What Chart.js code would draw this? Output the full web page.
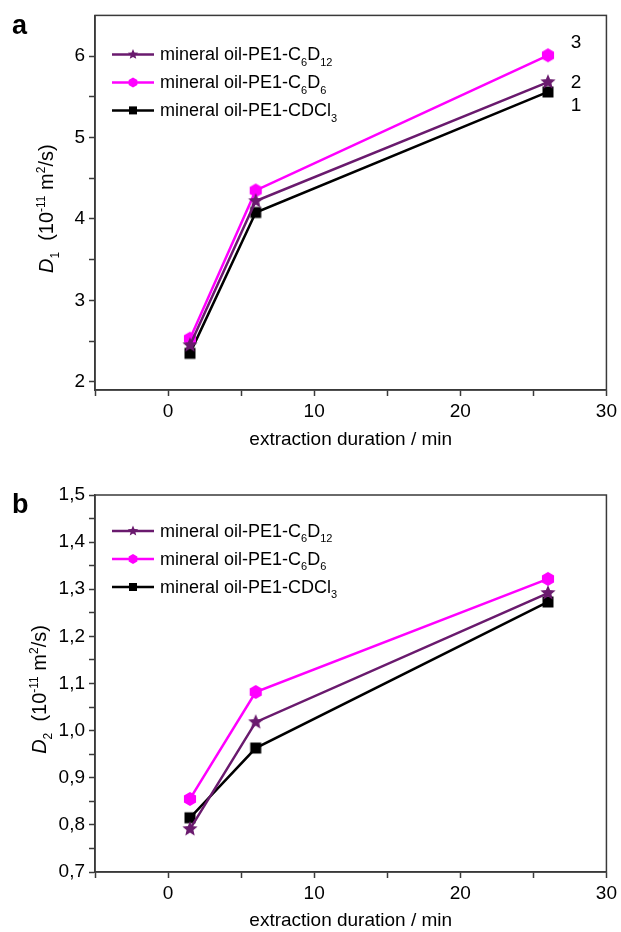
<!DOCTYPE html>
<html>
<head>
<meta charset="utf-8">
<script src="https://cdn.jsdelivr.net/npm/chart.js@4.4.0/dist/chart.umd.min.js"></script>
<style>
  html, body { margin: 0; padding: 0; background: #fff; }
  #boxA { position: relative; width: 621px; height: 465px; }
  #boxB { position: relative; width: 621px; height: 467px; }
</style>
</head>
<body>
<div id="boxA"><canvas id="chartA"></canvas></div>
<div id="boxB"><canvas id="chartB"></canvas></div>
<script>
// extraction duration (min)
var durations = [1.5, 6, 26];

// panel a : D1
var d1_C6D12 = [2.45, 4.22, 5.68];
var d1_C6D6  = [2.53, 4.35, 6.01];
var d1_CDCl3 = [2.35, 4.08, 5.56];

// panel b : D2
var d2_C6D12 = [0.791, 1.018, 1.292];
var d2_C6D6  = [0.855, 1.082, 1.322];
var d2_CDCl3 = [0.815, 0.963, 1.273];

// legend texts (_n = subscript)
var seriesLabels = ['mineral oil-PE1-C_6D_12', 'mineral oil-PE1-C_6D_6', 'mineral oil-PE1-CDCl_3'];
var curveNumbers = ['2', '3', '1'];

// ticks
var xTicks = [-5, 0, 5, 10, 15, 20, 25, 30];
var xTickLabels = ['', '0', '', '10', '', '20', '', '30'];
var d1Ticks = [2, 2.5, 3, 3.5, 4, 4.5, 5, 5.5, 6];
var d1TickLabels = ['2', '', '3', '', '4', '', '5', '', '6'];
var d2Ticks = [0.7, 0.75, 0.8, 0.85, 0.9, 0.95, 1.0, 1.05, 1.1, 1.15, 1.2, 1.25, 1.3, 1.35, 1.4, 1.45, 1.5];
var d2TickLabels = ['0,7', '', '0,8', '', '0,9', '', '1,0', '', '1,1', '', '1,2', '', '1,3', '', '1,4', '', '1,5'];

var colStar = '#6a1a6e';
var colHex = '#ff00ff';
var colSq = '#000000';
var FONT = "'Liberation Sans', Arial, sans-serif";
var axisCol = '#3a3a3a';

// marker shapes
function starPath(ctx, cx, cy, r) {
  ctx.beginPath();
  for (var i = 0; i < 10; i++) {
    var rr = i % 2 === 0 ? r : r * 0.45;
    var a = -Math.PI / 2 + i * Math.PI / 5;
    var px = cx + rr * Math.cos(a), py = cy + rr * Math.sin(a);
    if (i === 0) ctx.moveTo(px, py); else ctx.lineTo(px, py);
  }
  ctx.closePath();
}
function hexPath(ctx, cx, cy, r) {
  ctx.beginPath();
  for (var i = 0; i < 6; i++) {
    var a = -Math.PI / 2 + i * Math.PI / 3;
    var px = cx + r * Math.cos(a), py = cy + r * Math.sin(a);
    if (i === 0) ctx.moveTo(px, py); else ctx.lineTo(px, py);
  }
  ctx.closePath();
}
function sqPath(ctx, cx, cy, r) {
  ctx.beginPath();
  ctx.rect(cx - r, cy - r, 2 * r, 2 * r);
}
function makeMarker(pathFn, r, color) {
  var c = document.createElement('canvas');
  c.width = 20; c.height = 20;
  var g = c.getContext('2d');
  g.fillStyle = color;
  pathFn(g, 10, 10, r);
  g.fill();
  return c;
}
var mkStar = makeMarker(starPath, 8, colStar);
var mkHex = makeMarker(hexPath, 7, colHex);
var mkSq = makeMarker(sqPath, 5.5, colSq);

function parseRich(str) {
  var parts = [], re = /_(\d+)|\^(-?\d+)|([^_^]+)/g, m;
  while ((m = re.exec(str))) {
    if (m[1]) parts.push({ t: m[1], k: 'sub' });
    else if (m[2]) parts.push({ t: m[2], k: 'sup' });
    else parts.push({ t: m[3], k: 'n' });
  }
  return parts;
}
function partFont(p, fs) {
  var small = p.k === 'sub' || p.k === 'sup';
  return (p.k === 'it' ? 'italic ' : '') + (small ? Math.round(fs * 0.62) : fs) + 'px ' + FONT;
}
function richWidth(ctx, parts, fs) {
  var w = 0;
  parts.forEach(function (p) { ctx.font = partFont(p, fs); w += ctx.measureText(p.t).width; });
  return w;
}
function drawRich(ctx, parts, x, y, fs, color) {
  ctx.save();
  ctx.fillStyle = color;
  ctx.textBaseline = 'alphabetic';
  ctx.textAlign = 'left';
  parts.forEach(function (p) {
    ctx.font = partFont(p, fs);
    var dy = p.k === 'sub' ? fs * 0.3 : (p.k === 'sup' ? -fs * 0.42 : 0);
    ctx.fillText(p.t, x, y + dy);
    x += ctx.measureText(p.t).width;
  });
  ctx.restore();
}

var legendOrder = [
  { path: starPath, r: 5.5, color: colStar },
  { path: hexPath, r: 5, color: colHex },
  { path: sqPath, r: 4, color: colSq }
];

var decorPlugin = {
  id: 'decor',
  afterDraw: function (chart) {
    var ctx = chart.ctx, a = chart.chartArea, o = chart.options.plugins.decor;
    ctx.save();
    // frame
    ctx.strokeStyle = axisCol;
    ctx.lineWidth = 1.5;
    ctx.strokeRect(a.left, a.top, a.right - a.left, a.bottom - a.top);
    // panel letter
    ctx.fillStyle = '#000';
    ctx.font = 'bold 27px ' + FONT;
    ctx.textBaseline = 'alphabetic';
    ctx.fillText(o.letter, 12, o.letterY);
    // y title
    var fs = 20;
    var w = richWidth(ctx, o.yTitle, fs);
    ctx.translate(o.titleX, (a.top + a.bottom) / 2 + 6);
    ctx.rotate(-Math.PI / 2);
    drawRich(ctx, o.yTitle, -w / 2, 0, fs, '#000');
    ctx.restore();

    // legend
    for (var i = 0; i < seriesLabels.length; i++) {
      var y = a.top + o.legendTop + i * 28;
      var L = legendOrder[i];
      ctx.save();
      ctx.strokeStyle = L.color;
      ctx.lineWidth = 2.5;
      ctx.beginPath();
      ctx.moveTo(112, y); ctx.lineTo(154, y);
      ctx.stroke();
      ctx.fillStyle = L.color;
      L.path(ctx, 133, y, L.r);
      ctx.fill();
      ctx.restore();
      drawRich(ctx, parseRich(seriesLabels[i]), 160, y + 6, 18, '#000');
    }

    // curve numbers
    if (o.numbers) {
      ctx.save();
      ctx.fillStyle = '#000';
      ctx.font = '19px ' + FONT;
      ctx.textAlign = 'center';
      ctx.textBaseline = 'middle';
      var xs = chart.scales.x;
      chart.data.datasets.forEach(function (ds, k) {
        var last = ds.data.length - 1;
        var px = xs.getPixelForValue(durations[last]) + 28;
        var py = chart.scales.y.getPixelForValue(ds.data[last]) + o.numOffset[k];
        ctx.fillText(curveNumbers[k], px, py);
      });
      ctx.restore();
    }
  }
};

function makeChart(id, sets, yMin, yMax, yTicks, yLabels, pad, xHeight, xTitlePad, decor) {
  var datasets = [
    { data: sets[0], borderColor: colStar, pointStyle: mkStar },
    { data: sets[1], borderColor: colHex, pointStyle: mkHex },
    { data: sets[2], borderColor: colSq, pointStyle: mkSq }
  ].map(function (d) {
    d.borderWidth = 2.5;
    d.pointRadius = 7;
    d.fill = false;
    d.tension = 0;
    return d;
  });
  return new Chart(document.getElementById(id), {
    type: 'line',
    data: { labels: durations, datasets: datasets },
    options: {
      responsive: true,
      maintainAspectRatio: false,
      animation: false,
      layout: { padding: pad },
      plugins: { legend: { display: false }, tooltip: { enabled: false }, decor: decor },
      scales: {
        x: {
          type: 'linear', min: -5, max: 30,
          afterBuildTicks: function (s) { s.ticks = xTicks.map(function (v) { return { value: v }; }); },
          afterFit: function (s) { s.height = xHeight; },
          ticks: {
            autoSkip: false, maxRotation: 0, padding: 4, color: '#000',
            font: { family: FONT, size: 19 },
            callback: function (v, i) { return xTickLabels[i]; }
          },
          grid: { drawOnChartArea: false, drawTicks: true, tickLength: 6, tickColor: axisCol, tickWidth: 1.5 },
          border: { display: true, color: axisCol, width: 1.5 },
          title: {
            display: true, text: 'extraction duration / min', color: '#000',
            font: { family: FONT, size: 19 }, padding: { top: 0, bottom: xTitlePad }
          }
        },
        y: {
          type: 'linear', min: yMin, max: yMax,
          afterBuildTicks: function (s) { s.ticks = yTicks.map(function (v) { return { value: v }; }); },
          afterFit: function (s) { s.width = 95; },
          ticks: {
            autoSkip: false, padding: 4, color: '#000',
            font: { family: FONT, size: 19 },
            callback: function (v, i) { return yLabels[i]; }
          },
          grid: { drawOnChartArea: false, drawTicks: true, tickLength: 6, tickColor: axisCol, tickWidth: 1.5 },
          border: { display: true, color: axisCol, width: 1.5 }
        }
      }
    },
    plugins: [decorPlugin]
  });
}

makeChart('chartA', [d1_C6D12, d1_C6D6, d1_CDCl3], 1.9, 6.5, d1Ticks, d1TickLabels,
  { left: 0, right: 14, top: 14, bottom: 0 }, 75, 14,
  {
    letter: 'a', letterY: 34, legendTop: 39, numbers: true, numOffset: [1, -13, 14], titleX: 53,
    yTitle: [{ t: 'D', k: 'it' }, { t: '1', k: 'sub' }, { t: '  (10', k: 'n' }, { t: '-11', k: 'sup' },
             { t: ' m', k: 'n' }, { t: '2', k: 'sup' }, { t: '/s)', k: 'n' }]
  });

makeChart('chartB', [d2_C6D12, d2_C6D6, d2_CDCl3], 0.7, 1.5, d2Ticks, d2TickLabels,
  { left: 0, right: 14, top: 30, bottom: 0 }, 60, 0,
  {
    letter: 'b', letterY: 48, legendTop: 36, numbers: false, titleX: 46,
    yTitle: [{ t: 'D', k: 'it' }, { t: '2', k: 'sub' }, { t: '  (10', k: 'n' }, { t: '-11', k: 'sup' },
             { t: ' m', k: 'n' }, { t: '2', k: 'sup' }, { t: '/s)', k: 'n' }]
  });
</script>
</body>
</html>
